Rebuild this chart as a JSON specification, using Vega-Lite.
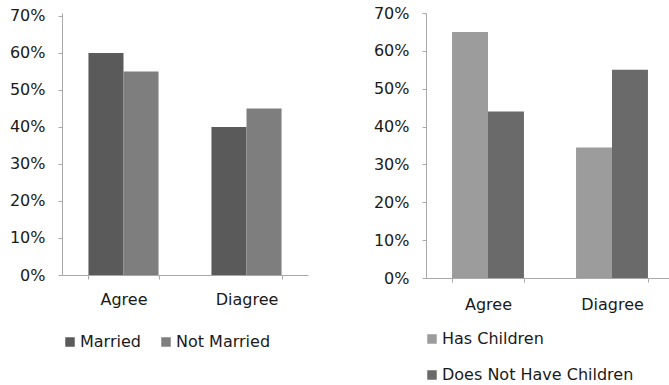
{
  "$schema": "https://vega.github.io/schema/vega-lite/v6.json",
  "background": "white",
  "padding": {"left": 9, "top": 5, "right": 0, "bottom": 0},
  "config": {
    "view": {"stroke": null},
    "font": "DejaVu Sans",
    "axis": {
      "labelFont": "DejaVu Sans",
      "labelFontSize": 16,
      "labelColor": "#1a1a1a",
      "domainColor": "#a8a8a8",
      "tickColor": "#a8a8a8",
      "grid": false,
      "title": null
    },
    "legend": {
      "labelFont": "DejaVu Sans",
      "labelFontSize": 16,
      "labelColor": "#1a1a1a",
      "labelLimit": 400,
      "symbolType": "square",
      "symbolSize": 90,
      "symbolStrokeWidth": 0,
      "labelOffset": 2,
      "title": null
    }
  },
  "spacing": 65,
  "resolve": {
    "scale": {"x": "independent", "xOffset": "independent", "y": "independent", "color": "independent"},
    "axis": {"x": "independent", "y": "independent"},
    "legend": {"color": "independent"}
  },
  "hconcat": [
    {
      "width": 246,
      "height": 262,
      "data": {
        "values": [
          {"response": "Agree", "status": "Married", "share": 0.60},
          {"response": "Agree", "status": "Not Married", "share": 0.55},
          {"response": "Diagree", "status": "Married", "share": 0.40},
          {"response": "Diagree", "status": "Not Married", "share": 0.45}
        ]
      },
      "mark": {"type": "bar"},
      "encoding": {
        "x": {
          "field": "response",
          "type": "nominal",
          "sort": ["Agree", "Diagree"],
          "scale": {"paddingInner": 0.43, "paddingOuter": 0.215},
          "axis": {"labelAngle": 0, "tickBand": "extent", "tickSize": 4, "labelPadding": 12}
        },
        "xOffset": {
          "field": "status",
          "type": "nominal",
          "scale": {"domain": ["Married", "Not Married"], "paddingInner": 0, "paddingOuter": 0}
        },
        "y": {
          "field": "share",
          "type": "quantitative",
          "scale": {"domain": [0, 0.7081], "nice": false},
          "axis": {"format": ".0%", "values": [0, 0.1, 0.2, 0.3, 0.4, 0.5, 0.6, 0.7], "tickSize": 4, "labelPadding": 13}
        },
        "color": {
          "field": "status",
          "type": "nominal",
          "scale": {"domain": ["Married", "Not Married"], "range": ["#5a5a5a", "#7e7e7e"]},
          "legend": {"orient": "none", "legendX": 0, "legendY": 321, "direction": "horizontal", "columns": 2, "columnPadding": 17}
        }
      }
    },
    {
      "width": 248,
      "height": 265,
      "data": {
        "values": [
          {"response": "Agree", "children": "Has Children", "share": 0.65},
          {"response": "Agree", "children": "Does Not Have Children", "share": 0.44},
          {"response": "Diagree", "children": "Has Children", "share": 0.345},
          {"response": "Diagree", "children": "Does Not Have Children", "share": 0.55}
        ]
      },
      "mark": {"type": "bar"},
      "encoding": {
        "x": {
          "field": "response",
          "type": "nominal",
          "sort": ["Agree", "Diagree"],
          "scale": {"paddingInner": 0.42, "paddingOuter": 0.21},
          "axis": {"labelAngle": 0, "tickBand": "extent", "tickSize": 4, "labelPadding": 14}
        },
        "xOffset": {
          "field": "children",
          "type": "nominal",
          "scale": {"domain": ["Has Children", "Does Not Have Children"], "paddingInner": 0, "paddingOuter": 0}
        },
        "y": {
          "field": "share",
          "type": "quantitative",
          "scale": {"domain": [0, 0.7], "nice": false},
          "axis": {"format": ".0%", "values": [0, 0.1, 0.2, 0.3, 0.4, 0.5, 0.6, 0.7], "tickSize": 4, "labelPadding": 13}
        },
        "color": {
          "field": "children",
          "type": "nominal",
          "scale": {"domain": ["Has Children", "Does Not Have Children"], "range": ["#9c9c9c", "#6a6a6a"]},
          "legend": {"orient": "none", "legendX": -2, "legendY": 318, "direction": "vertical", "rowPadding": 20}
        }
      }
    }
  ]
}
